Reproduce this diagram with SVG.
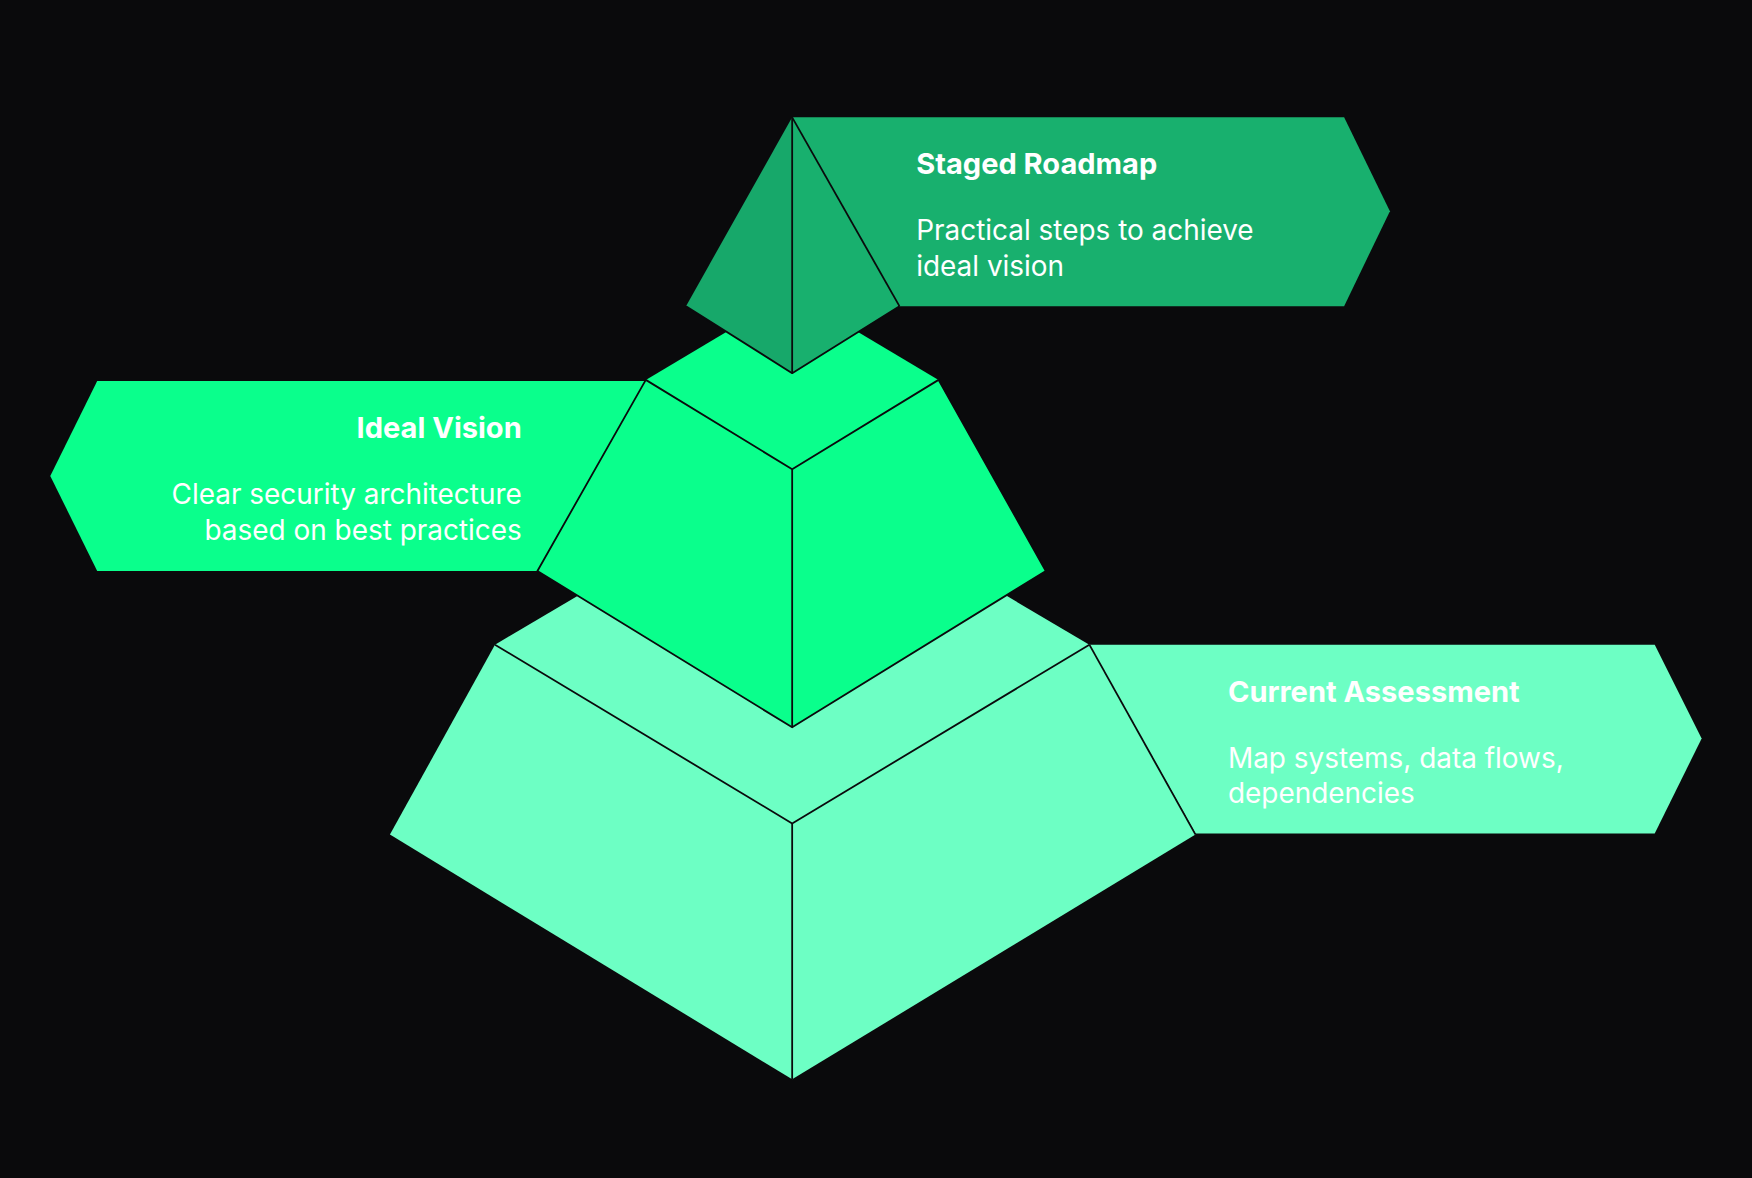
<svg xmlns="http://www.w3.org/2000/svg" width="1752" height="1178" viewBox="0 0 1752 1178">
<style>
.e{stroke:#0a0a0c;stroke-width:1.6;stroke-linejoin:round}
.t{font-family:Inter,"Liberation Sans",sans-serif;fill:#ffffff}
.h{font-size:26px;font-weight:700}
.b{font-size:25px}
.c1{fill:#6dffc4}.c2{fill:#0aff8c}.c3{fill:#18b06e}.c3d{fill:#17a86a}
</style>
<rect width="1752" height="1178" fill="#0a0a0c"/>
<g transform="scale(1.1173)">
<g id="tier-bottom">
<polygon class="c1" points="975,577 1481,577 1523,661 1481,746 1070,746"/>
<polygon class="c1" points="443,577 709,420 975,577 1070,747 709,966 349,747"/>
<g class="e" fill="none"><polyline points="443,577 709,737 975,577"/><line x1="709" y1="737" x2="709" y2="966"/><line x1="975" y1="577" x2="1070" y2="747"/></g>
<text class="t h" x="1099" y="628">Current Assessment</text>
<text class="t b" x="1099" y="687">Map systems, data flows,</text>
<text class="t b" x="1099" y="719">dependencies</text>
</g>
<g id="tier-middle">
<polygon class="c2" points="87,341 578,341 481,511 87,511 45,426"/>
<polygon class="c2" points="578,340 709,262 840,340 936,511 709,651 481,511"/>
<g class="e" fill="none"><polyline points="578,340 709,420 840,340"/><line x1="709" y1="420" x2="709" y2="651"/><polyline points="578,340 481,511 709,651 936,511 840,340"/></g>
<text class="t h" x="467" y="392" text-anchor="end">Ideal Vision</text>
<text class="t b" x="467" y="451" text-anchor="end">Clear security architecture</text>
<text class="t b" x="467" y="483" text-anchor="end">based on best practices</text>
</g>
<g id="tier-top">
<polygon class="c3" points="709,105 1203,105 1244,189 1203,274 805,274"/>
<polygon class="c3d" points="709,105 614,274 709,334"/>
<polygon class="c3" points="709,105 805,274 709,334"/>
<g class="e" fill="none"><line x1="709" y1="105" x2="709" y2="334"/><line x1="709" y1="105" x2="805" y2="274"/><polyline points="614,274 709,334 805,274"/></g>
<text class="t h" x="820" y="156">Staged Roadmap</text>
<text class="t b" x="820" y="215">Practical steps to achieve</text>
<text class="t b" x="820" y="247">ideal vision</text>
</g>
</g>
</svg>
